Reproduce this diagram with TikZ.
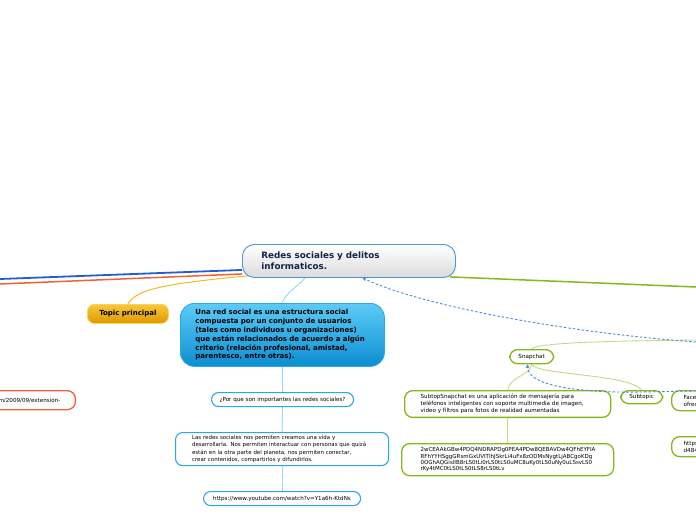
\documentclass[tikz,border=0pt]{standalone}
\usepackage{fontspec}
\setmainfont{DejaVu Sans}
\usetikzlibrary{arrows.meta}
\definecolor{rootline}{HTML}{4A96D8}
\definecolor{roottext}{HTML}{15224A}
\definecolor{bluel}{HTML}{1F5FD0}
\definecolor{redl}{HTML}{F2603A}
\definecolor{yell}{HTML}{F7BA1E}
\definecolor{greenl}{HTML}{86B81C}
\definecolor{lgreen}{HTML}{C2DB8A}
\definecolor{skyl}{HTML}{9AD8F5}
\definecolor{skyb}{HTML}{2AA8E4}
\definecolor{dashb}{HTML}{4C8BDA}
\definecolor{topA}{HTML}{F8C83A}
\definecolor{topB}{HTML}{E09800}
\definecolor{bluA}{HTML}{5CCBF6}
\definecolor{bluB}{HTML}{0C8ED2}
\pgfdeclarelayer{bg}\pgfsetlayers{bg,main}
\tikzset{
  rootbox/.style={draw=rootline, line width=0.9pt, rounded corners=12pt, top color=white, bottom color=gray!28, font=\fontsize{8.8}{11.5}\selectfont\bfseries, text=roottext, align=left, anchor=north west},
  topicbox/.style={draw=topA!80!white, line width=0.8pt, rounded corners=7pt, top color=topA, bottom color=topB, font=\fontsize{7}{8}\selectfont\bfseries, anchor=north west, inner sep=0pt},
  mainbox/.style={draw=skyb, line width=0.8pt, rounded corners=14pt, top color=bluA, bottom color=bluB, font=\fontsize{7}{8.8}\selectfont\bfseries, align=left, anchor=north west},
  skybox/.style={draw=skyb, line width=1.1pt, fill=white, rounded corners=7pt, font=\fontsize{5.6}{7.3}\selectfont, align=left, anchor=north west, inner sep=0pt},
  grbox/.style={draw=greenl, line width=1.3pt, fill=white, rounded corners=8pt, font=\fontsize{5.6}{7.2}\selectfont, align=left, anchor=north west},
  redbox/.style={draw=redl, line width=1.3pt, fill=white, rounded corners=8pt, font=\fontsize{5.6}{6.5}\selectfont, align=right, anchor=north east},
  dashconn/.style={dashb, line width=0.9pt, dash pattern=on 2.5pt off 2pt, -{Stealth[length=4pt,width=4pt]}},
}
\begin{document}
\begin{tikzpicture}[x=1pt,y=-1pt]
\useasboundingbox (0,0) rectangle (696,520);
\clip (0,0) rectangle (696,520);

% nodes
\node[rootbox, minimum width=213pt, minimum height=33pt, inner xsep=19pt, text width=175pt] (root) at (242,244) {Redes sociales y delitos\\informaticos.};
\node[topicbox, minimum width=81pt, minimum height=19pt] (topic) at (87,304) {Topic principal};
\node[mainbox, minimum width=204pt, minimum height=63pt, inner xsep=15pt, text width=174pt] (main) at (180,303) {Una red social es una estructura social\\compuesta por un conjunto de usuarios\\(tales como individuos u organizaciones)\\que están relacionados de acuerdo a algún\\criterio (relación profesional, amistad,\\parentesco, entre otras).};
\node[skybox, minimum width=142pt, minimum height=14pt] (why) at (211,392) {¿Por que son importantes las redes sociales?};
\node[skybox, minimum width=213pt, minimum height=33pt, inner xsep=16.5pt, text width=180pt, font=\fontsize{5.45}{7.2}\selectfont] (desc) at (175,432) {Las redes sociales nos permiten creamos una vida y\\desarrollarla. Nos permiten interactuar con personas que quizá\\están en la otra parte del planeta, nos permiten conectar,\\crear contenidos, compartirlos y difundirlos.};
\node[skybox, minimum width=157pt, minimum height=14pt] (yt) at (203,491) {https://www.youtube.com/watch?v=Y1a6h-KtdNs};
\node[redbox, minimum height=19pt, inner xsep=15pt, text width=110pt] (lk) at (76,390) {m/2009/09/extension-};

\node[grbox, minimum width=44pt, minimum height=14pt, inner sep=0pt, align=center] (snap) at (509,349) {Snapchat};
\node[grbox, minimum width=42pt, minimum height=13pt, inner sep=0pt, align=center] (sub) at (620,390) {Subtopic};
\node[grbox, minimum width=206pt, minimum height=26pt, inner xsep=16pt, text width=174pt] (sts) at (404,390) {SubtopSnapchat es una aplicación de mensajería para\\teléfonos inteligentes con soporte multimedia de imagen,\\video y filtros para fotos de realidad aumentadas};
\node[grbox, minimum width=212pt, minimum height=32pt, inner xsep=19pt, text width=174pt, font=\fontsize{5.5}{6.3}\selectfont] (code) at (401,443) {2wCEAAkGBw4PDQ4NDRAPDg0PEA4PDw8QEBAVDw4QFhEYFIA\\RFhYYHSggGRsmGxUVITIhJSkrLi4uFx8zODMsNygtLjABCgoKDg\\0OGhAQGislIB8rLS0tLi0rLS0tLS0uMC8uKy0tLS0uNy0uLSsvLS0\\rKy4tMC0tLS0tLS0tLS8rLS0tLv};
\node[grbox, minimum width=100pt, minimum height=20pt, inner xsep=12pt, text width=76pt] (face) at (671,390) {Face\\ofrec};
\node[grbox, minimum width=100pt, minimum height=20pt, inner xsep=12pt, text width=76pt] (http) at (671,436) {https\\d484};

\coordinate (lb) at (0,279);
\coordinate (lr) at (0,284);
\coordinate (rg) at (696,287);
\coordinate (rs) at (696,340);
\coordinate (rd) at (696,342);
\coordinate (rd2) at (696,391);

\begin{pgfonlayer}{bg}
\draw[bluel, line width=1.8pt] ([yshift=-9pt]root.west) -- (lb);
\draw[redl, line width=1.5pt] ([yshift=-13pt]root.west) -- (lr);
\draw[yell, line width=1pt] ([xshift=6pt,yshift=2pt]root.south west) .. controls (160,284) and (136,290) .. (topic.north);
\draw[greenl, line width=1.5pt] ([xshift=-6pt,yshift=1pt]root.south east) -- (rg);
\draw[skyl, line width=1pt] ([xshift=-44pt]root.south) .. controls (300,285) and (284,294) .. (main.north);
\draw[skyl, line width=1pt] (main.south) -- (why.north);
\draw[skyl, line width=1pt] (why.south) -- (desc.north);
\draw[skyl, line width=1pt] (desc.south) -- (yt.north);
\draw[lgreen, line width=0.9pt] (snap.north) .. controls (536,343) and (600,341) .. (rs);
\draw[lgreen, line width=0.9pt] (snap.south) .. controls (530,376) and (510,376) .. (sts.north);
\draw[lgreen, line width=0.9pt] (snap.south) .. controls (536,375) and (630,374) .. (sub.north);
\draw[lgreen, line width=0.9pt] (sts.south) -- (code.north);
\end{pgfonlayer}
\draw[dashconn] (rd) .. controls (560,332) and (420,305) .. ([xshift=13.5pt]root.south);
\draw[dashconn] (rd2) -- (640,392) .. controls (575,393) and (527,385) .. ([xshift=-4pt]snap.south);
\end{tikzpicture}
\end{document}
